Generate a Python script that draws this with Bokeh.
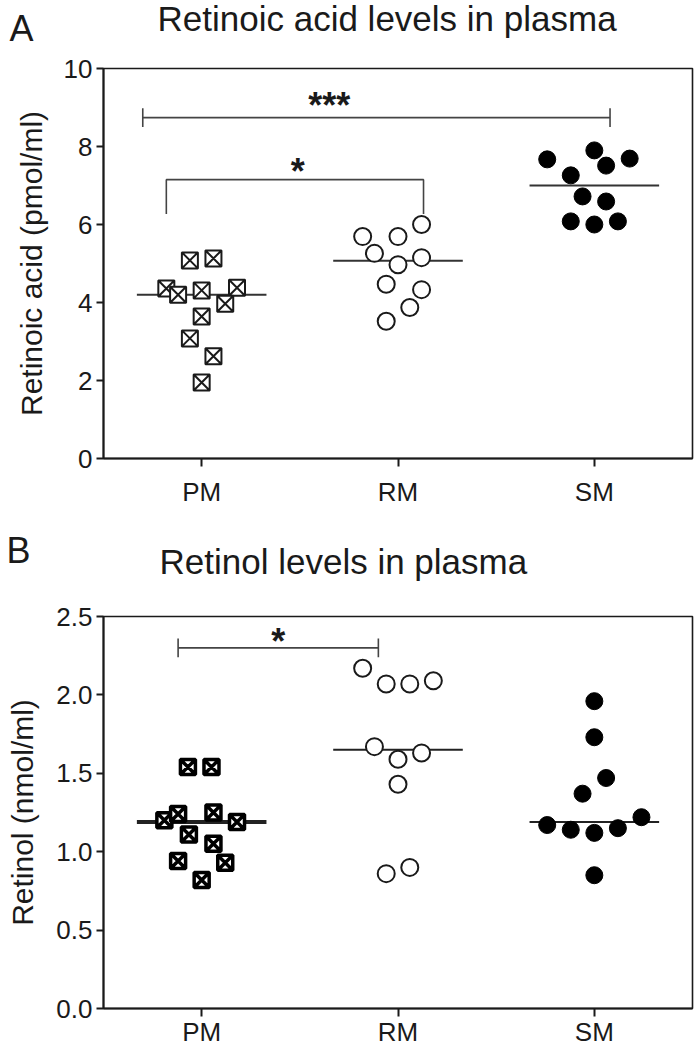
from bokeh.plotting import figure
from bokeh.models import FixedTicker, Label, NumeralTickFormatter, Range1d
from bokeh.layouts import column
from bokeh.embed import file_html
from bokeh.resources import INLINE

# ---------------- data ----------------
groups = ["PM", "RM", "SM"]

# Panel A: retinoic acid (pmol/ml)
ra_pm = [5.08, 5.13, 4.36, 4.20, 4.31, 4.38, 3.97, 3.64, 3.08, 2.62, 1.95]
ra_pm_jit = [-0.06, 0.06, -0.18, -0.12, 0.0, 0.18, 0.12, 0.0, -0.06, 0.06, 0.0]
ra_rm = [6.00, 5.69, 5.69, 5.26, 5.15, 4.97, 4.47, 4.33, 3.87, 3.52]
ra_rm_jit = [0.12, -0.18, 0.0, -0.12, 0.12, 0.0, -0.06, 0.12, 0.06, -0.06]
ra_sm = [7.67, 7.90, 7.69, 7.51, 7.26, 6.72, 6.59, 6.08, 6.00, 6.08]
ra_sm_jit = [-0.24, 0.0, 0.18, 0.06, -0.12, -0.06, 0.06, -0.12, 0.0, 0.12]
ra_median = [4.20, 5.07, 7.00]

# Panel B: retinol (nmol/ml)
rol_pm = [1.54, 1.54, 1.20, 1.24, 1.25, 1.19, 1.11, 1.05, 0.94, 0.93, 0.82]
rol_pm_jit = [-0.07, 0.05, -0.19, -0.12, 0.06, 0.18, -0.065, 0.06, -0.12, 0.12, 0.0]
rol_rm = [2.17, 2.07, 2.07, 2.09, 1.67, 1.59, 1.63, 1.43, 0.86, 0.90]
rol_rm_jit = [-0.18, -0.06, 0.06, 0.18, -0.12, 0.0, 0.12, 0.0, -0.06, 0.06]
rol_sm = [1.96, 1.73, 1.47, 1.37, 1.22, 1.17, 1.14, 1.12, 1.15, 0.85]
rol_sm_jit = [0.0, 0.0, 0.06, -0.06, 0.24, -0.24, -0.12, 0.0, 0.12, 0.0]
rol_median = [1.19, 1.65, 1.19]

# significance brackets
ra_sig_star = dict(x0=-0.18, x1=1.13, y=7.15, leg=6.27, tx=0.49, ty=7.36, text="*")
ra_sig_3star = dict(x0=-0.30, x1=2.08, y=8.74, cap=0.24, tx=0.65, ty=9.05, text="***")
rol_sig_star = dict(x0=-0.12, x1=0.90, y=2.30, cap=0.06, tx=0.39, ty=2.34, text="*")

FONT = "Liberation Sans"
INK = "#1a1a1a"
W = 696


def header(height, letter, lx, ly, title, tx, ty):
    h = figure(width=W, height=height, output_backend="svg", toolbar_location=None,
               title=None, x_range=Range1d(0, W), y_range=Range1d(height, 0),
               x_axis_type=None, y_axis_type=None, min_border=0)
    h.frame_align = False
    h.outline_line_color = None
    h.grid.visible = False
    h.add_layout(Label(x=lx, y=ly, text=letter, text_font=FONT, text_font_size="36px",
                       text_baseline="middle", text_align="left", text_color=INK))
    h.add_layout(Label(x=tx, y=ty, text=title, text_font=FONT, text_font_size="35px",
                       text_baseline="middle", text_align="left", text_color=INK))
    return h


def base_fig(height, top, bottom, ymax, ystep, fmt, ylabel, xstand, lstand):
    p = figure(width=W, height=height, output_backend="svg", toolbar_location=None,
               x_range=Range1d(-0.5, 2.5), y_range=Range1d(0, ymax),
               min_border_left=103, min_border_right=4, min_border_top=top,
               min_border_bottom=bottom)
    p.grid.visible = False
    p.outline_line_color = INK
    p.outline_line_width = 1.6
    p.xaxis.ticker = FixedTicker(ticks=[0, 1, 2])
    p.xaxis.major_label_overrides = {0: groups[0], 1: groups[1], 2: groups[2]}
    nt = int(round(ymax / ystep))
    p.yaxis.ticker = FixedTicker(ticks=[round(i * ystep, 3) for i in range(nt + 1)])
    if fmt:
        p.yaxis.formatter = NumeralTickFormatter(format=fmt)
    for ax in (p.xaxis[0], p.yaxis[0]):
        ax.axis_line_color = INK
        ax.axis_line_width = 2
        ax.major_tick_line_color = INK
        ax.major_tick_line_width = 2
        ax.major_tick_in = 0
        ax.minor_tick_line_color = None
        ax.major_label_text_font = FONT
        ax.major_label_text_font_size = "26px"
        ax.major_label_text_color = INK
    p.xaxis.major_tick_out = 8
    p.xaxis.major_label_standoff = xstand
    p.yaxis.major_tick_out = 7
    p.yaxis.major_label_standoff = 4
    p.yaxis.axis_label = ylabel
    p.yaxis.axis_label_text_font = FONT
    p.yaxis.axis_label_text_font_size = "30px"
    p.yaxis.axis_label_text_font_style = "normal"
    p.yaxis.axis_label_text_color = INK
    p.yaxis.axis_label_standoff = lstand
    return p


def star(p, b):
    p.add_layout(Label(x=b["tx"], y=b["ty"], text=b["text"], text_font=FONT,
                       text_font_size="36px", text_font_style="bold",
                       text_align="center", text_baseline="middle", text_color=INK))


def capped(p, b):
    p.line([b["x0"], b["x1"]], [b["y"], b["y"]], line_color="#444444", line_width=1.6)
    p.segment(x0=[b["x0"], b["x1"]], x1=[b["x0"], b["x1"]],
              y0=[b["y"] - b["cap"]] * 2, y1=[b["y"] + b["cap"]] * 2,
              line_color="#444444", line_width=1.6)


# ---------------- panel A ----------------
hA = header(50, "A", 9, 27.5, "Retinoic acid levels in plasma", 157, 18)
pA = base_fig(470, 18, 62, 10, 2, None, "Retinoic acid (pmol/ml)", 10, 13)
pA.segment(x0=[i - 0.33 for i in range(3)], x1=[i + 0.33 for i in range(3)],
           y0=ra_median, y1=ra_median, line_color="#333333", line_width=2)
pA.scatter([0 + j for j in ra_pm_jit], ra_pm, marker="square_x", size=16,
           fill_color="white", line_color=INK, line_width=2)
pA.scatter([1 + j for j in ra_rm_jit], ra_rm, marker="circle", size=17,
           fill_color="white", line_color=INK, line_width=2)
pA.scatter([2 + j for j in ra_sm_jit], ra_sm, marker="circle", size=17,
           fill_color="black", line_color="black", line_width=1)

b = ra_sig_star
pA.line([b["x0"], b["x0"], b["x1"], b["x1"]], [b["leg"], b["y"], b["y"], b["leg"]],
        line_color="#444444", line_width=1.6)
star(pA, b)
capped(pA, ra_sig_3star)
star(pA, ra_sig_3star)

# ---------------- panel B ----------------
hB = header(80, "B", 6, 29.5, "Retinol levels in plasma", 159, 41)
pB = base_fig(450, 16, 42, 2.5, 0.5, "0.0", "Retinol (nmol/ml)", 0, 14)
pB.segment(x0=[i - 0.33 for i in range(3)], x1=[i + 0.33 for i in range(3)],
           y0=rol_median, y1=rol_median, line_color="#222222", line_width=[4, 2, 2])
pB.scatter([0 + j for j in rol_pm_jit], rol_pm, marker="square_x", size=15,
           fill_color="white", line_color="black", line_width=3.5)
pB.scatter([1 + j for j in rol_rm_jit], rol_rm, marker="circle", size=17,
           fill_color="white", line_color=INK, line_width=2)
pB.scatter([2 + j for j in rol_sm_jit], rol_sm, marker="circle", size=17,
           fill_color="black", line_color="black", line_width=1)
capped(pB, rol_sig_star)
star(pB, rol_sig_star)

layout = column(hA, pA, hB, pB, spacing=0)
open("out.html", "w").write(file_html(layout, INLINE))
